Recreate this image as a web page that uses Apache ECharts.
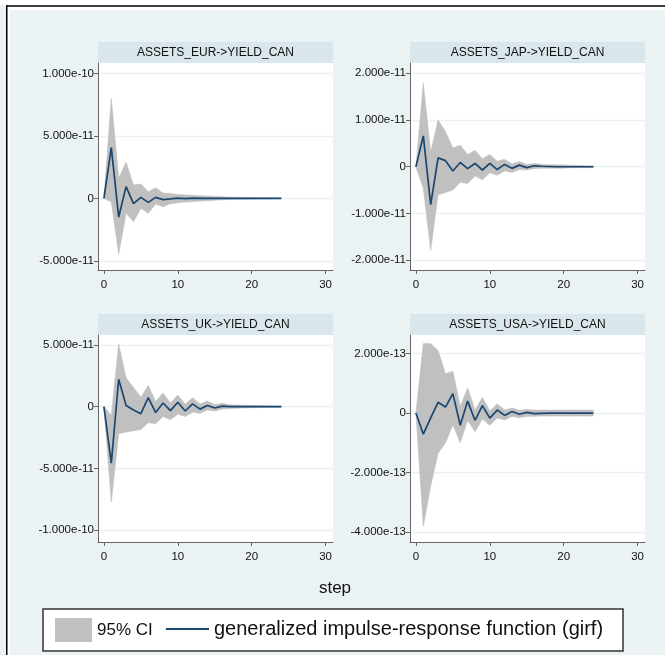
<!DOCTYPE html>
<html><head><meta charset="utf-8">
<script src="https://cdn.jsdelivr.net/npm/echarts@6/dist/echarts.min.js"></script>
<style>html,body{margin:0;padding:0;background:#fff}#c{width:665px;height:655px}</style>
</head><body><div id="c"></div>
<script>
// ---------------- data ----------------
const steps = [0,1,2,3,4,5,6,7,8,9,10,11,12,13,14,15,16,17,18,19,20,21,22,23,24];
const xTicks = [0,10,20,30];
const panelTitles = ['ASSETS_EUR->YIELD_CAN','ASSETS_JAP->YIELD_CAN','ASSETS_UK->YIELD_CAN','ASSETS_USA->YIELD_CAN'];
const legendNames = ['95% CI','generalized impulse-response function (girf)'];
const xTitle = 'step';

// values in units of 1e-11 (EUR, JAP, UK) and 1e-13 (USA)
const unitEUR = 1e-11, unitJAP = 1e-11, unitUK = 1e-11, unitUSA = 1e-13;
const eurGirf  = [0,4.06,-1.5,0.94,-0.43,0.08,-0.32,0.08,-0.1,-0.05,0.02,-0.02,0.01,0,0,0,0,0,0,0,0,0,0,0,0];
const eurUpper = [0,8.0,1.6,2.9,1.07,1.15,0.53,0.85,0.42,0.38,0.3,0.27,0.24,0.21,0.18,0.15,0.12,0.1,0.08,0.07,0.06,0.05,0.04,0.03,0.03];
const eurLower = [0,-0.3,-4.47,-1.2,-1.87,-0.8,-1.2,-0.45,-0.67,-0.43,-0.35,-0.3,-0.27,-0.22,-0.19,-0.15,-0.12,-0.1,-0.08,-0.07,-0.06,-0.05,-0.04,-0.03,-0.03];

const japGirf  = [0,0.66,-0.81,0.19,0.13,-0.09,0.09,-0.04,0.07,-0.07,0.07,-0.06,0.05,-0.035,0.035,-0.02,0.02,0.01,0.005,0,0,0,0,0,0];
const japUpper = [0,1.79,0.31,1.0,0.75,0.4,0.46,0.26,0.35,0.17,0.26,0.12,0.16,0.06,0.11,0.05,0.07,0.05,0.04,0.04,0.04,0.03,0.03,0.02,0.02];
const japLower = [0,-0.46,-1.79,-0.6,-0.55,-0.5,-0.33,-0.36,-0.2,-0.28,-0.13,-0.18,-0.09,-0.12,-0.06,-0.07,-0.04,-0.03,-0.03,-0.03,-0.03,-0.02,-0.02,-0.02,-0.02];

const ukGirf   = [0,-4.58,2.22,0.09,-0.27,-0.57,0.74,-0.48,0.3,-0.32,0.36,-0.35,0.23,-0.2,0.09,-0.11,0.05,0.01,0,0,0,0,0,0,0];
const ukUpper  = [0,-0.7,5.08,2.35,1.55,0.76,1.72,0.42,1.1,0.3,0.95,0.2,0.72,0.22,0.45,0.16,0.27,0.15,0.13,0.12,0.1,0.08,0.07,0.06,0.05];
const ukLower  = [0,-7.73,-2.2,-2.05,-1.95,-1.85,-1.3,-1.38,-0.8,-1.05,-0.61,-0.8,-0.45,-0.53,-0.27,-0.35,-0.19,-0.15,-0.12,-0.1,-0.08,-0.07,-0.06,-0.05,-0.05];

const usaGirf  = [0,-0.71,-0.16,0.36,0.2,0.65,-0.41,0.4,-0.25,0.25,-0.17,0.1,-0.08,0.05,-0.04,0.02,-0.02,-0.01,0,0,0,0,0,0,0];
const usaUpper = [0,2.33,2.33,2.1,1.32,1.4,0.22,0.84,0.1,0.53,0.07,0.31,0.1,0.17,0.09,0.12,0.1,0.1,0.1,0.1,0.1,0.1,0.1,0.1,0.1];
const usaLower = [0,-3.8,-2.45,-1.35,-1.0,-0.4,-1.0,-0.25,-0.63,-0.2,-0.41,-0.17,-0.23,-0.11,-0.16,-0.11,-0.11,-0.1,-0.1,-0.1,-0.1,-0.1,-0.1,-0.1,-0.1];

const yTicksEUR = [-5e-11, 0, 5e-11, 1e-10];
const yTicksJAP = [-2e-11, -1e-11, 0, 1e-11, 2e-11];
const yTicksUK  = [-1e-10, -5e-11, 0, 5e-11];
const yTicksUSA = [-4e-13, -2e-13, 0, 2e-13];

// ---------------- layout / style ----------------
const FONT = 'Liberation Sans, Arial, sans-serif';
const BG = '#eaf2f3', BAR = '#d9e6eb', CI = '#c0c0c0', NAVY = '#1a476f', AX = '#666';
const panels = [
  {girf: eurGirf, up: eurUpper, lo: eurLower, unit: unitEUR, ticks: yTicksEUR, min: -5.74e-11, max: 1.084e-10, left: 98,  top: 63},
  {girf: japGirf, up: japUpper, lo: japLower, unit: unitJAP, ticks: yTicksJAP, min: -2.21e-11, max: 2.22e-11, left: 410, top: 63},
  {girf: ukGirf,  up: ukUpper,  lo: ukLower,  unit: unitUK,  ticks: yTicksUK,  min: -1.097e-10, max: 5.81e-11, left: 98,  top: 335},
  {girf: usaGirf, up: usaUpper, lo: usaLower, unit: unitUSA, ticks: yTicksUSA, min: -4.33e-13, max: 2.62e-13, left: 410, top: 335}
];
const PW = 235, PH = 207, BARH = 21;

const grids = [], xAxes = [], yAxes = [], series = [], graphics = [];

// frame decoration
graphics.push({type:'rect', shape:{x:0,y:0,width:665,height:5.2}, style:{fill:'#fff'}, silent:true});
graphics.push({type:'rect', shape:{x:7.5,y:6.8,width:660,height:3.2}, style:{fill:'#fff'}, silent:true});
graphics.push({type:'rect', shape:{x:7.5,y:6.8,width:2.5,height:650}, style:{fill:'#fff'}, silent:true});
graphics.push({type:'rect', shape:{x:6,y:5.2,width:660,height:1.6}, style:{fill:'#000'}, silent:true});
graphics.push({type:'rect', shape:{x:6,y:5.2,width:1.5,height:650}, style:{fill:'#000'}, silent:true});

panels.forEach((p, i) => {
  grids.push({left: p.left, top: p.top, width: PW, height: PH, show: true, backgroundColor: '#fff', borderWidth: 0});
  xAxes.push({
    gridIndex: i, type: 'value', min: -0.8, max: 31,
    axisLine: {show: true, onZero: false, lineStyle: {color: AX, width: 1}},
    axisTick: {show: true, length: 4, customValues: xTicks, lineStyle: {color: AX}},
    axisLabel: {customValues: xTicks, fontSize: 11.5, fontFamily: FONT, color: '#111', margin: 9},
    splitLine: {show: false}
  });
  yAxes.push({
    gridIndex: i, type: 'value', min: p.min, max: p.max,
    axisLine: {show: true, onZero: false, lineStyle: {color: AX, width: 1}},
    axisTick: {show: true, length: 4, customValues: p.ticks, lineStyle: {color: AX}},
    axisLabel: {customValues: p.ticks, fontSize: 11.5, fontFamily: FONT, color: '#111', margin: 4,
      formatter: v => (Math.abs(v) < 1e-20 ? '0' : Number(v).toExponential(3))},
    splitLine: {show: true, lineStyle: {color: BG, width: 1.3}}
  });
  // 95% CI band: polygon through upper points then lower points, mapped by the axes
  series.push({
    type: 'custom', name: legendNames[0], xAxisIndex: i, yAxisIndex: i, silent: true, z: 2,
    itemStyle: {color: CI},
    data: [[0, 0]],
    renderItem: (params, api) => {
      const upPts = steps.map((s, k) => api.coord([s, p.up[k] * p.unit]));
      const loPts = steps.map((s, k) => api.coord([s, p.lo[k] * p.unit])).reverse();
      return {type: 'polygon', shape: {points: upPts.concat(loPts)}, style: {fill: CI, stroke: CI, lineWidth: 0.6}};
    }
  });
  series.push({
    type: 'line', name: legendNames[1], xAxisIndex: i, yAxisIndex: i,
    data: steps.map((s, k) => [s, p.girf[k] * p.unit]), symbol: 'none', silent: true,
    lineStyle: {color: NAVY, width: 1.7}, itemStyle: {color: NAVY}, z: 3
  });
  // title bar
  graphics.push({type:'rect', shape:{x:p.left, y:p.top - BARH, width:PW, height:BARH}, style:{fill:BAR}, silent:true});
  graphics.push({type:'text', x: p.left + PW / 2, y: p.top - BARH / 2 + 0.5,
    style:{text: panelTitles[i], font: '12px ' + FONT, fill: '#111', align: 'center', verticalAlign: 'middle'}, silent:true});
});

// x title
graphics.push({type:'text', x: 335, y: 588, style:{text: xTitle, font: '17px ' + FONT, fill: '#111', align: 'center', verticalAlign: 'middle'}, silent:true});
// legend box
graphics.push({type:'rect', shape:{x:43, y:609, width:580, height:42}, style:{fill:'#fff', stroke:'#333', lineWidth:1.5}, silent:true});

const option = {
  animation: false,
  backgroundColor: BG,
  grid: grids, xAxis: xAxes, yAxis: yAxes, series: series,
  legend: [
    {data: [{name: legendNames[0], icon: 'rect', itemStyle: {color: CI}}], left: 55, top: 618, padding: 0,
     itemWidth: 37, itemHeight: 24, selectedMode: false, textStyle: {fontSize: 17, fontFamily: FONT, color: '#111'}},
    {data: [{name: legendNames[1], icon: 'rect', itemStyle: {color: NAVY}}], left: 166, top: 619, padding: 0,
     itemWidth: 43, itemHeight: 2, selectedMode: false, textStyle: {fontSize: 20, fontFamily: FONT, color: '#111'}}
  ],
  graphic: {elements: graphics}
};
const chart = echarts.init(document.getElementById('c'), null, {renderer: 'canvas'});
chart.setOption(option);
</script></body></html>
